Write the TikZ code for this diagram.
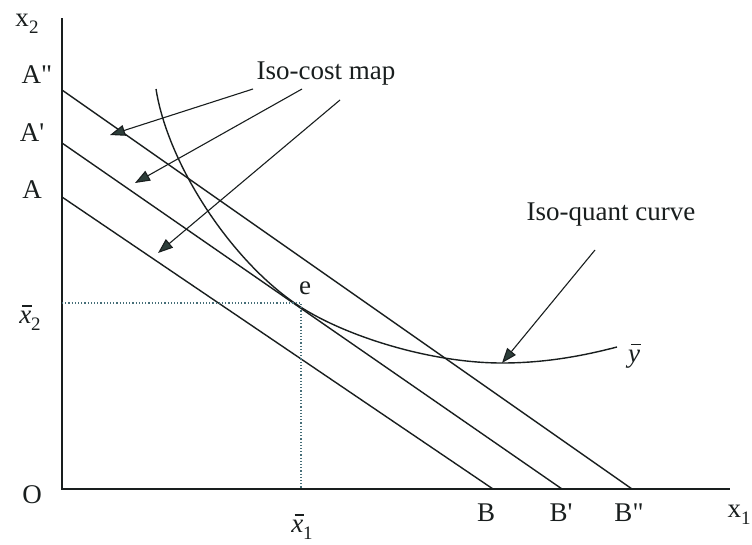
\documentclass[tikz,border=0pt]{standalone}
\usepackage{fontspec}
\setmainfont{Liberation Serif}
\usetikzlibrary{arrows.meta}
\definecolor{ink}{RGB}{25,30,30}
\definecolor{headc}{RGB}{45,62,58}
\definecolor{dotc}{RGB}{70,110,120}
\newcommand{\barit}[1]{\setbox0\hbox{\itshape #1}\rlap{\hspace{0.12em}\rule[0.62em]{\dimexpr\wd0-0.08em\relax}{0.05em}}\box0}
\newcommand{\lowsub}[1]{\raisebox{-0.28em}{\fontsize{19}{19}\selectfont #1}}
\begin{document}
\begin{tikzpicture}[x=1pt,y=-1pt,
  lbl/.style={font=\fontsize{27}{30}\selectfont, inner sep=0pt, text=ink},
  axisline/.style={line width=1.6pt, draw=ink},
  costline/.style={line width=1.4pt, draw=ink},
  guide/.style={dotted, line width=1.2pt, draw=dotc},
  pointer/.style={line width=1.1pt, draw=ink, -{Triangle[length=15pt,width=11pt,fill=headc]}}]
\useasboundingbox (0,0) rectangle (752,544);
% axes
\coordinate (O) at (62,489);
\coordinate (Ytop) at (62,18);
\coordinate (Xend) at (730,489);
\draw[axisline] (Ytop) -- (O) -- (Xend);
% iso-cost lines
\coordinate (A) at (62,197);
\coordinate (A1) at (62,143);
\coordinate (A2) at (62,90);
\coordinate (B) at (493,489);
\coordinate (B1) at (562,489);
\coordinate (B2) at (632,489);
\draw[costline] (A) -- (B);
\draw[costline] (A1) -- (B1);
\draw[costline] (A2) -- (B2);
% iso-quant curve
\coordinate (q0) at (156,89);
\coordinate (e) at (299,306);
\coordinate (qmin) at (502,363);
\coordinate (qend) at (617,347);
\draw[costline] (q0) .. controls (168,165) and (232,262) .. (e)
  .. controls (345,336) and (430,363) .. (qmin)
  .. controls (550,363) and (590,354) .. (qend);
% guides
\coordinate (gx2) at (62,303);
\coordinate (ge) at (301,303);
\coordinate (gx1) at (301,489);
\draw[guide] (gx2) -- (ge) -- (gx1);
% labels
\node[lbl] (lx2) at (27,24) {x\lowsub{2}};
\node[lbl] (lA2) at (37,75) {A\textquotedbl};
\node[lbl] (lA1) at (32,133) {A\textquotesingle};
\node[lbl] (lA) at (32,190) {A};
\node[lbl] (lxb2) at (30,318) {\barit{x}\lowsub{2}};
\node[lbl] (lO) at (32,495) {O};
\node[lbl] (lxb1) at (302,527) {\barit{x}\lowsub{1}};
\node[lbl] (le) at (305,288) {e};
\node[lbl] (lB) at (486,513) {B};
\node[lbl] (lB1) at (561,513) {B\textquotesingle};
\node[lbl] (lB2) at (629,513) {B\textquotedbl};
\node[lbl] (lx1) at (739,515) {x\lowsub{1}};
\node[lbl] (ly) at (634,356) {\barit{y}};
\node[lbl] (lcost) at (326,74) {Iso-cost map};
\node[lbl] (lquant) at (611,215) {Iso-quant curve};
% pointers
\coordinate (p1s) at (253,89);
\coordinate (p1e) at (110,135);
\coordinate (p2s) at (302,89);
\coordinate (p2e) at (135,183);
\coordinate (p3s) at (340,100);
\coordinate (p3e) at (158,253);
\coordinate (p4s) at (595,250);
\coordinate (p4e) at (502,363);
\draw[pointer] (p1s) -- (p1e);
\draw[pointer] (p2s) -- (p2e);
\draw[pointer] (p3s) -- (p3e);
\draw[pointer] (p4s) -- (p4e);
\end{tikzpicture}
\end{document}
